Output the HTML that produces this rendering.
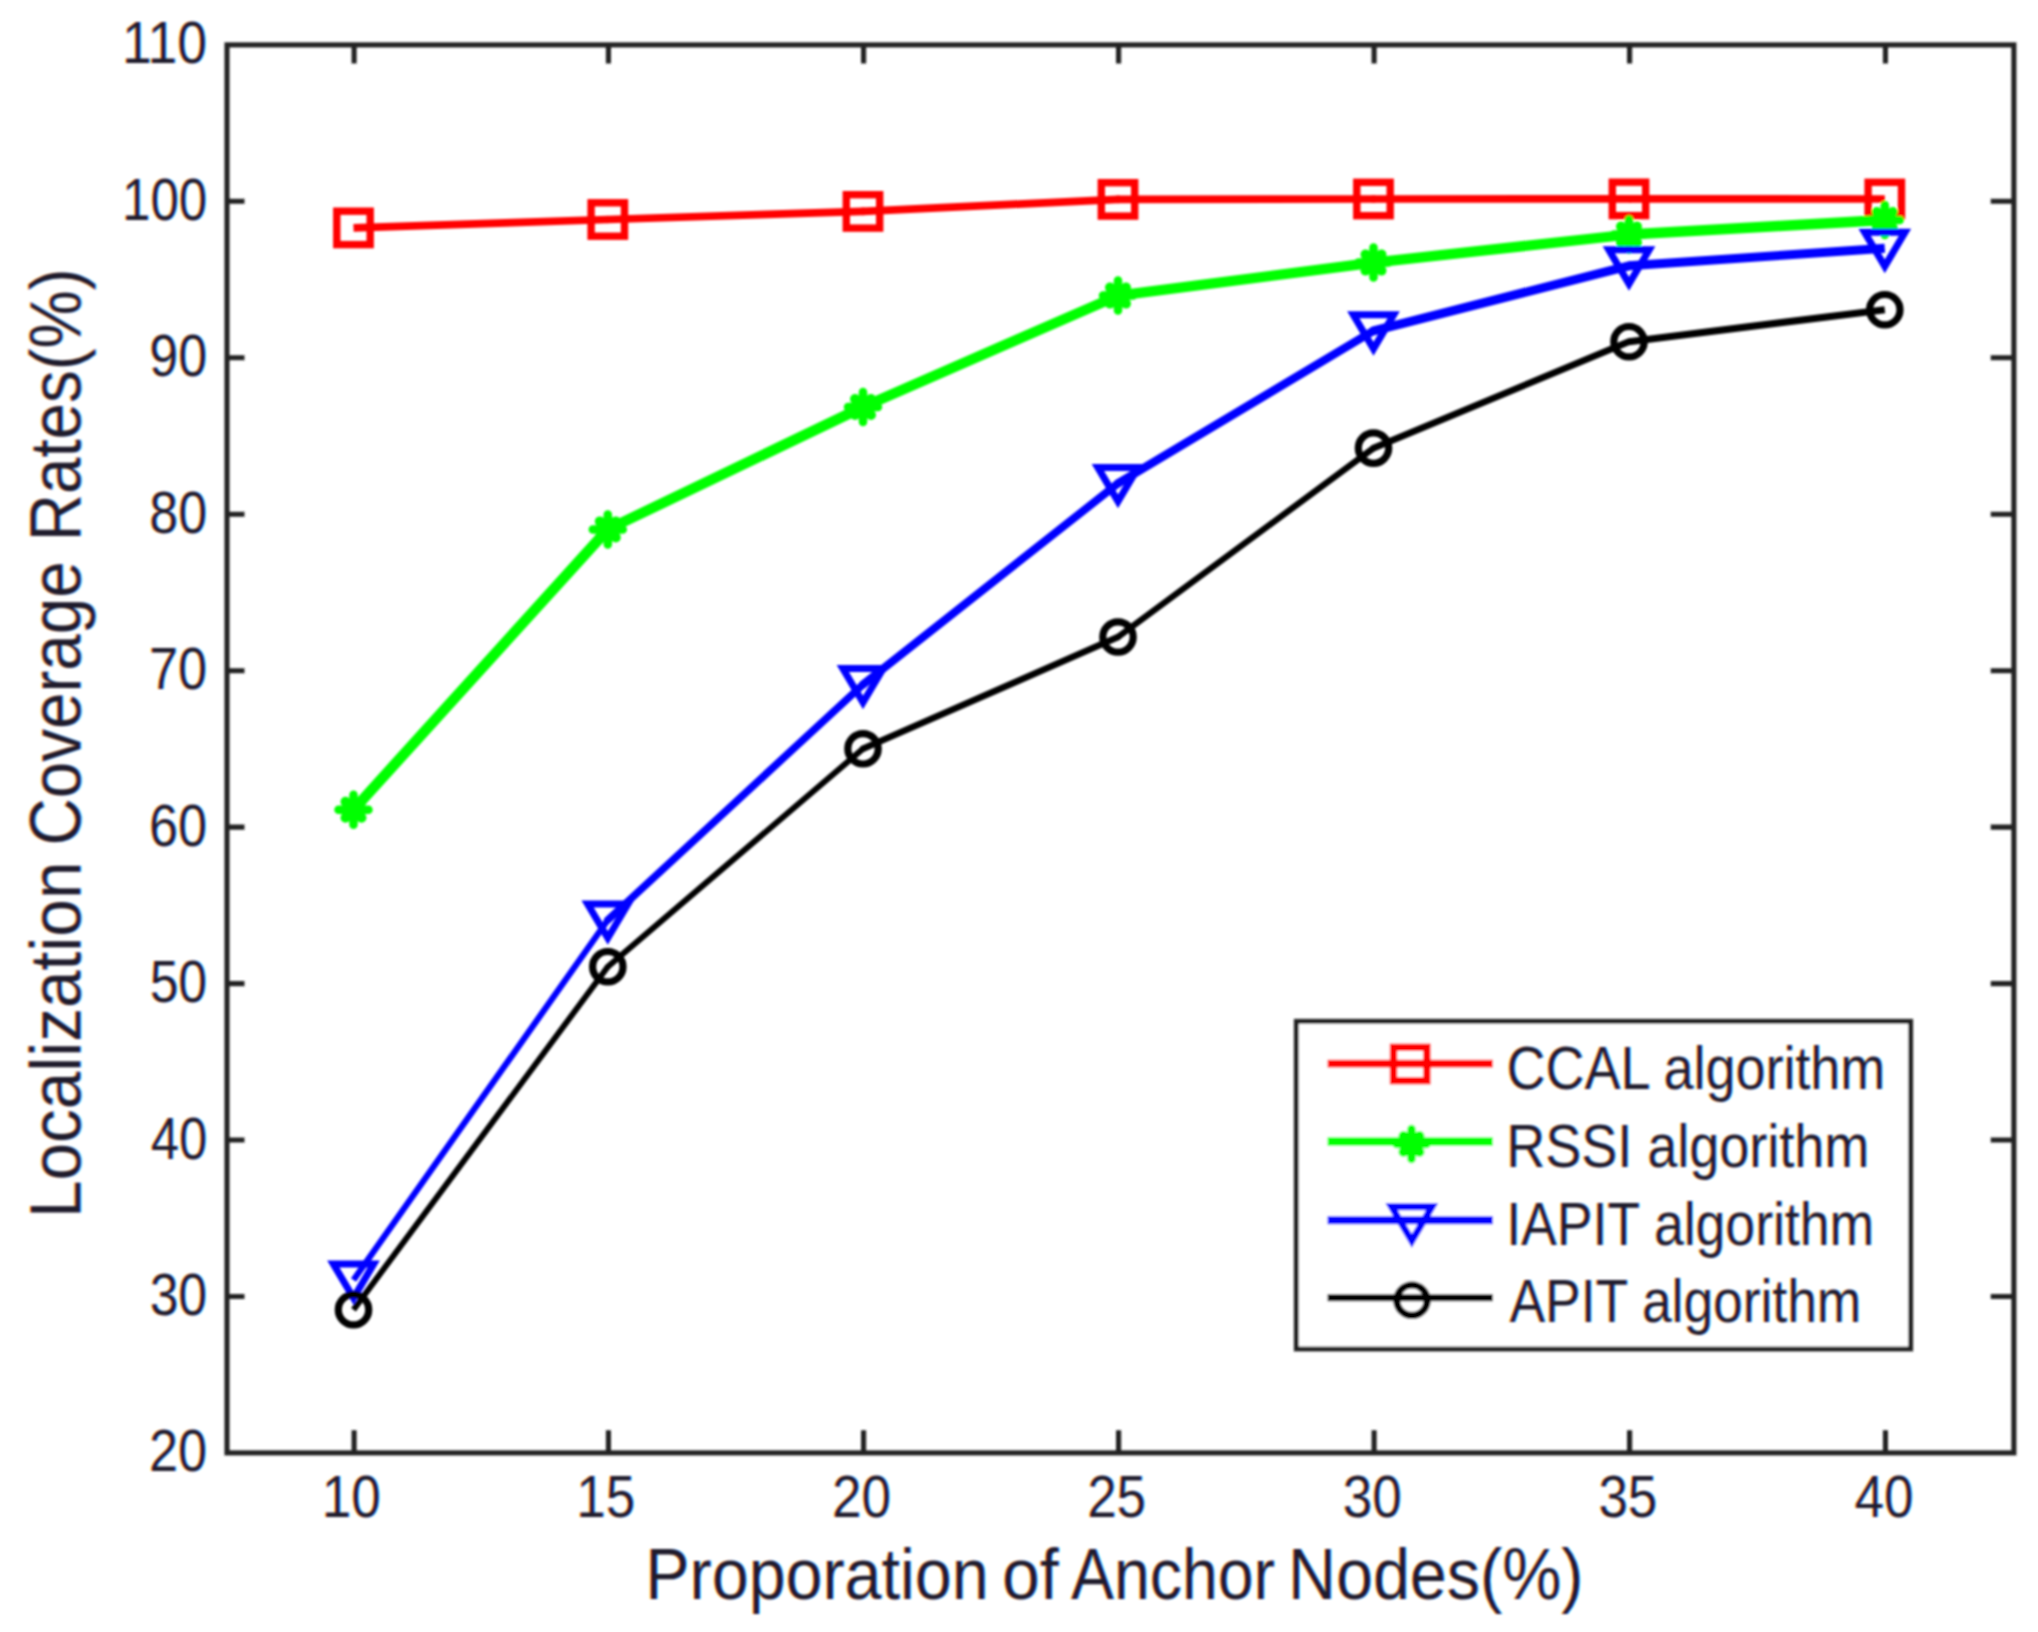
<!DOCTYPE html>
<html><head><meta charset="utf-8"><title>Localization Coverage Rates</title>
<style>html,body{margin:0;padding:0;background:#fff}svg{display:block}</style></head>
<body>
<svg width="2038" height="1632" viewBox="0 0 2038 1632">
<defs>
<filter id="ct" x="-2%" y="-2%" width="104%" height="104%" color-interpolation-filters="sRGB">
<feOffset in="SourceGraphic" dx="-1.35" dy="0" result="l"/>
<feColorMatrix in="l" type="matrix" values="0 0 0 0 1  0 0 0 0 0.95  0 0 0 0 0.18  0 0 0 1 0" result="ly"/>
<feOffset in="SourceGraphic" dx="1.35" dy="0" result="r"/>
<feColorMatrix in="r" type="matrix" values="0 0 0 0 0.13  0 0 0 0 0.95  0 0 0 0 1  0 0 0 1 0" result="rc"/>
<feColorMatrix in="SourceGraphic" type="matrix" values="0 0 0 0 0.95  0 0 0 0 0.12  0 0 0 0 0.95  0 0 0 1 0" result="cm"/>
<feBlend in="ly" in2="rc" mode="multiply" result="b1"/>
<feBlend in="b1" in2="cm" mode="multiply" result="b2"/>
<feGaussianBlur in="b2" stdDeviation="0.8"/>
</filter>
<filter id="soft" x="-1%" y="-1%" width="102%" height="102%"><feGaussianBlur stdDeviation="0.9"/></filter>
</defs>
<rect x="0" y="0" width="2038" height="1632" fill="#fff"/>
<g filter="url(#soft)">
<line x1="353.5" y1="227.9" x2="607.8" y2="219.5" stroke="#ff0000" stroke-width="7.7" stroke-linecap="butt"/>
<line x1="607.8" y1="219.5" x2="863.0" y2="211.4" stroke="#ff0000" stroke-width="7.7" stroke-linecap="round"/>
<line x1="863.0" y1="211.4" x2="1118.0" y2="199.4" stroke="#ff0000" stroke-width="7.7" stroke-linecap="round"/>
<line x1="1118.0" y1="199.4" x2="1373.5" y2="199.0" stroke="#ff0000" stroke-width="7.7" stroke-linecap="round"/>
<line x1="1373.5" y1="199.0" x2="1629.0" y2="198.9" stroke="#ff0000" stroke-width="7.7" stroke-linecap="round"/>
<line x1="1629.0" y1="198.9" x2="1884.8" y2="199.0" stroke="#ff0000" stroke-width="7.7" stroke-linecap="butt"/>
<rect x="336.8" y="211.2" width="33.4" height="33.4" fill="none" stroke="#ff0000" stroke-width="7.4"/>
<rect x="591.1" y="202.8" width="33.4" height="33.4" fill="none" stroke="#ff0000" stroke-width="7.4"/>
<rect x="846.3" y="194.7" width="33.4" height="33.4" fill="none" stroke="#ff0000" stroke-width="7.4"/>
<rect x="1101.3" y="182.7" width="33.4" height="33.4" fill="none" stroke="#ff0000" stroke-width="7.4"/>
<rect x="1356.8" y="182.3" width="33.4" height="33.4" fill="none" stroke="#ff0000" stroke-width="7.4"/>
<rect x="1612.3" y="182.2" width="33.4" height="33.4" fill="none" stroke="#ff0000" stroke-width="7.4"/>
<rect x="1868.1" y="182.3" width="33.4" height="33.4" fill="none" stroke="#ff0000" stroke-width="7.4"/>
<line x1="353.5" y1="809.7" x2="607.8" y2="529.4" stroke="#00ff00" stroke-width="10.6" stroke-linecap="butt"/>
<line x1="607.8" y1="529.4" x2="863.0" y2="407.0" stroke="#00ff00" stroke-width="10.4" stroke-linecap="round"/>
<line x1="863.0" y1="407.0" x2="1118.0" y2="295.6" stroke="#00ff00" stroke-width="10.3" stroke-linecap="round"/>
<line x1="1118.0" y1="295.6" x2="1373.5" y2="262.6" stroke="#00ff00" stroke-width="10.3" stroke-linecap="round"/>
<line x1="1373.5" y1="262.6" x2="1629.0" y2="234.5" stroke="#00ff00" stroke-width="10.3" stroke-linecap="round"/>
<line x1="1629.0" y1="234.5" x2="1884.8" y2="220.0" stroke="#00ff00" stroke-width="10.3" stroke-linecap="butt"/>
<g stroke="#00ff00" stroke-width="8.5" stroke-linecap="round"><path d="M338.5 809.7H368.5M353.5 794.7V824.7"/><path stroke-width="10" d="M345.5 801.7L361.5 817.7M345.5 817.7L361.5 801.7"/></g>
<g stroke="#00ff00" stroke-width="8.5" stroke-linecap="round"><path d="M592.8 529.4H622.8M607.8 514.4V544.4"/><path stroke-width="10" d="M599.8 521.4L615.8 537.4M599.8 537.4L615.8 521.4"/></g>
<g stroke="#00ff00" stroke-width="8.5" stroke-linecap="round"><path d="M848.0 407.0H878.0M863.0 392.0V422.0"/><path stroke-width="10" d="M855.0 399.0L871.0 415.0M855.0 415.0L871.0 399.0"/></g>
<g stroke="#00ff00" stroke-width="8.5" stroke-linecap="round"><path d="M1103.0 295.6H1133.0M1118.0 280.6V310.6"/><path stroke-width="10" d="M1110.0 287.6L1126.0 303.6M1110.0 303.6L1126.0 287.6"/></g>
<g stroke="#00ff00" stroke-width="8.5" stroke-linecap="round"><path d="M1358.5 262.6H1388.5M1373.5 247.6V277.6"/><path stroke-width="10" d="M1365.5 254.6L1381.5 270.6M1365.5 270.6L1381.5 254.6"/></g>
<g stroke="#00ff00" stroke-width="8.5" stroke-linecap="round"><path d="M1614.0 234.5H1644.0M1629.0 219.5V249.5"/><path stroke-width="10" d="M1621.0 226.5L1637.0 242.5M1621.0 242.5L1637.0 226.5"/></g>
<g stroke="#00ff00" stroke-width="8.5" stroke-linecap="round"><path d="M1869.8 220.0H1899.8M1884.8 205.0V235.0"/><path stroke-width="10" d="M1876.8 212.0L1892.8 228.0M1876.8 228.0L1892.8 212.0"/></g>
<line x1="353.5" y1="1280.0" x2="607.8" y2="920.0" stroke="#0000ff" stroke-width="6.2" stroke-linecap="butt"/>
<line x1="607.8" y1="920.0" x2="863.0" y2="684.5" stroke="#0000ff" stroke-width="7.6" stroke-linecap="round"/>
<line x1="863.0" y1="684.5" x2="1118.0" y2="483.4" stroke="#0000ff" stroke-width="8.0" stroke-linecap="round"/>
<line x1="1118.0" y1="483.4" x2="1373.5" y2="330.8" stroke="#0000ff" stroke-width="8.3" stroke-linecap="round"/>
<line x1="1373.5" y1="330.8" x2="1629.0" y2="265.8" stroke="#0000ff" stroke-width="9.0" stroke-linecap="round"/>
<line x1="1629.0" y1="265.8" x2="1884.8" y2="248.3" stroke="#0000ff" stroke-width="9.0" stroke-linecap="butt"/>
<path d="M333.3 1264.0H373.7L353.5 1298.0Z" fill="none" stroke="#0000ff" stroke-width="7.0" stroke-linejoin="miter"/>
<path d="M587.6 904.0H628.0L607.8 938.0Z" fill="none" stroke="#0000ff" stroke-width="7.0" stroke-linejoin="miter"/>
<path d="M842.8 668.5H883.2L863.0 702.5Z" fill="none" stroke="#0000ff" stroke-width="7.0" stroke-linejoin="miter"/>
<path d="M1097.8 467.4H1138.2L1118.0 501.4Z" fill="none" stroke="#0000ff" stroke-width="7.0" stroke-linejoin="miter"/>
<path d="M1353.3 314.8H1393.7L1373.5 348.8Z" fill="none" stroke="#0000ff" stroke-width="7.0" stroke-linejoin="miter"/>
<path d="M1608.8 249.8H1649.2L1629.0 283.8Z" fill="none" stroke="#0000ff" stroke-width="7.0" stroke-linejoin="miter"/>
<path d="M1864.6 232.3H1905.0L1884.8 266.3Z" fill="none" stroke="#0000ff" stroke-width="7.0" stroke-linejoin="miter"/>
<line x1="353.5" y1="1309.7" x2="607.8" y2="966.7" stroke="#000000" stroke-width="5.9" stroke-linecap="butt"/>
<line x1="607.8" y1="966.7" x2="863.0" y2="748.8" stroke="#000000" stroke-width="6.0" stroke-linecap="round"/>
<line x1="863.0" y1="748.8" x2="1118.0" y2="637.0" stroke="#000000" stroke-width="6.6" stroke-linecap="round"/>
<line x1="1118.0" y1="637.0" x2="1373.5" y2="448.1" stroke="#000000" stroke-width="6.3" stroke-linecap="round"/>
<line x1="1373.5" y1="448.1" x2="1629.0" y2="341.7" stroke="#000000" stroke-width="6.8" stroke-linecap="round"/>
<line x1="1629.0" y1="341.7" x2="1884.8" y2="309.7" stroke="#000000" stroke-width="7.2" stroke-linecap="butt"/>
<circle cx="353.5" cy="1309.7" r="15.2" fill="none" stroke="#000" stroke-width="7.2"/>
<circle cx="607.8" cy="966.7" r="15.2" fill="none" stroke="#000" stroke-width="7.2"/>
<circle cx="863.0" cy="748.8" r="15.2" fill="none" stroke="#000" stroke-width="7.2"/>
<circle cx="1118.0" cy="637.0" r="15.2" fill="none" stroke="#000" stroke-width="7.2"/>
<circle cx="1373.5" cy="448.1" r="15.2" fill="none" stroke="#000" stroke-width="7.2"/>
<circle cx="1629.0" cy="341.7" r="15.2" fill="none" stroke="#000" stroke-width="7.2"/>
<circle cx="1884.8" cy="309.7" r="15.2" fill="none" stroke="#000" stroke-width="7.2"/>
<rect x="227.0" y="44.9" width="1786.9" height="1408.0" fill="none" stroke="#202020" stroke-width="5.1"/>
<path d="M354.1 1452.9V1430.3000000000002M354.1 44.9V63.5M608.4 1452.9V1430.3000000000002M608.4 44.9V63.5M863.6 1452.9V1430.3000000000002M863.6 44.9V63.5M1118.6 1452.9V1430.3000000000002M1118.6 44.9V63.5M1374.1 1452.9V1430.3000000000002M1374.1 44.9V63.5M1629.6 1452.9V1430.3000000000002M1629.6 44.9V63.5M1885.4 1452.9V1430.3000000000002M1885.4 44.9V63.5M227.0 1296.5H244.5M2013.9 1296.5H1990.7M227.0 1140.0H244.5M2013.9 1140.0H1990.7M227.0 983.6H244.5M2013.9 983.6H1990.7M227.0 827.1H244.5M2013.9 827.1H1990.7M227.0 670.7H244.5M2013.9 670.7H1990.7M227.0 514.2H244.5M2013.9 514.2H1990.7M227.0 357.8H244.5M2013.9 357.8H1990.7M227.0 201.3H244.5M2013.9 201.3H1990.7" fill="none" stroke="#202020" stroke-width="5.1"/>
<rect x="1296.3" y="1021.3" width="614.4" height="327.7" fill="#fff" stroke="#202020" stroke-width="4.8"/>
<line x1="1327.6" x2="1492.8" y1="1063.6" y2="1063.6" stroke="#ff0000" stroke-width="7.8"/>
<rect x="1393.5" y="1047.3" width="33.4" height="33.4" fill="none" stroke="#ff0000" stroke-width="7.4"/>
<line x1="1327.6" x2="1492.8" y1="1141.6" y2="1141.6" stroke="#00ff00" stroke-width="8.5"/>
<g stroke="#00ff00" stroke-width="8.5" stroke-linecap="round"><path d="M1396.5 1144.0H1426.5M1411.5 1129.0V1159.0"/><path stroke-width="10" d="M1403.5 1136.0L1419.5 1152.0M1403.5 1152.0L1419.5 1136.0"/></g>
<line x1="1327.6" x2="1492.8" y1="1220.3" y2="1220.3" stroke="#0000ff" stroke-width="8.0"/>
<path d="M1391.6 1206.8H1432.0L1411.8 1240.8Z" fill="none" stroke="#0000ff" stroke-width="7.0" stroke-linejoin="miter"/>
<line x1="1327.6" x2="1492.8" y1="1297.8" y2="1297.8" stroke="#000" stroke-width="7.0"/>
<circle cx="1412.0" cy="1300.2" r="15.2" fill="none" stroke="#000" stroke-width="7.2"/>
</g>
<g font-family="'Liberation Sans', Arial, sans-serif" fill="#222" filter="url(#ct)">
<text font-size="100" transform="matrix(0.5220 0 0 0.5850 149.09 1471.48)">20</text>
<text font-size="100" transform="matrix(0.5169 0 0 0.5850 149.63 1315.04)">30</text>
<text font-size="100" transform="matrix(0.5071 0 0 0.5850 150.69 1158.59)">40</text>
<text font-size="100" transform="matrix(0.5169 0 0 0.5850 149.63 1002.15)">50</text>
<text font-size="100" transform="matrix(0.5220 0 0 0.5850 149.09 845.70)">60</text>
<text font-size="100" transform="matrix(0.5220 0 0 0.5850 149.09 689.26)">70</text>
<text font-size="100" transform="matrix(0.5194 0 0 0.5850 149.36 532.82)">80</text>
<text font-size="100" transform="matrix(0.5194 0 0 0.5850 149.36 376.37)">90</text>
<text font-size="100" transform="matrix(0.5100 0 0 0.5850 122.08 219.93)">100</text>
<text font-size="100" transform="matrix(0.5340 0 0 0.5850 121.89 63.48)">110</text>
<text font-size="100" transform="matrix(0.5294 0 0 0.5850 321.86 1517.41)">10</text>
<text font-size="100" transform="matrix(0.5294 0 0 0.5850 576.29 1517.41)">15</text>
<text font-size="100" transform="matrix(0.5294 0 0 0.5850 832.02 1517.41)">20</text>
<text font-size="100" transform="matrix(0.5294 0 0 0.5850 1087.15 1517.41)">25</text>
<text font-size="100" transform="matrix(0.5294 0 0 0.5850 1342.78 1517.41)">30</text>
<text font-size="100" transform="matrix(0.5294 0 0 0.5850 1598.42 1517.41)">35</text>
<text font-size="100" transform="matrix(0.5294 0 0 0.5850 1854.61 1517.41)">40</text>
<text font-size="66" transform="matrix(1 0 0 1.0979 0 1599.3)"><tspan x="645.29" textLength="343.34" lengthAdjust="spacingAndGlyphs">Proporation</tspan> <tspan x="1002.09" textLength="56.54" lengthAdjust="spacingAndGlyphs">of</tspan> <tspan x="1071.10" textLength="203.80" lengthAdjust="spacingAndGlyphs">Anchor</tspan> <tspan x="1287.99" textLength="295.36" lengthAdjust="spacingAndGlyphs">Nodes(%)</tspan></text>
<text font-size="66" transform="matrix(0 -1 1.0979 0 80.6 2000)"><tspan x="781.90" textLength="356.58" lengthAdjust="spacingAndGlyphs">Localization</tspan> <tspan x="1154.42" textLength="284.40" lengthAdjust="spacingAndGlyphs">Coverage</tspan> <tspan x="1458.66" textLength="273.04" lengthAdjust="spacingAndGlyphs">Rates(%)</tspan></text>
<text font-size="100" transform="matrix(0.5394 0 0 0.6116 1506.60 1088.70)">CCAL algorithm</text>
<text font-size="100" transform="matrix(0.5401 0 0 0.6116 1506.18 1166.80)">RSSI algorithm</text>
<text font-size="100" transform="matrix(0.5353 0 0 0.6116 1506.18 1244.50)">IAPIT algorithm</text>
<text font-size="100" transform="matrix(0.5334 0 0 0.6116 1509.50 1322.20)">APIT algorithm</text>
</g>
</svg>
</body></html>
